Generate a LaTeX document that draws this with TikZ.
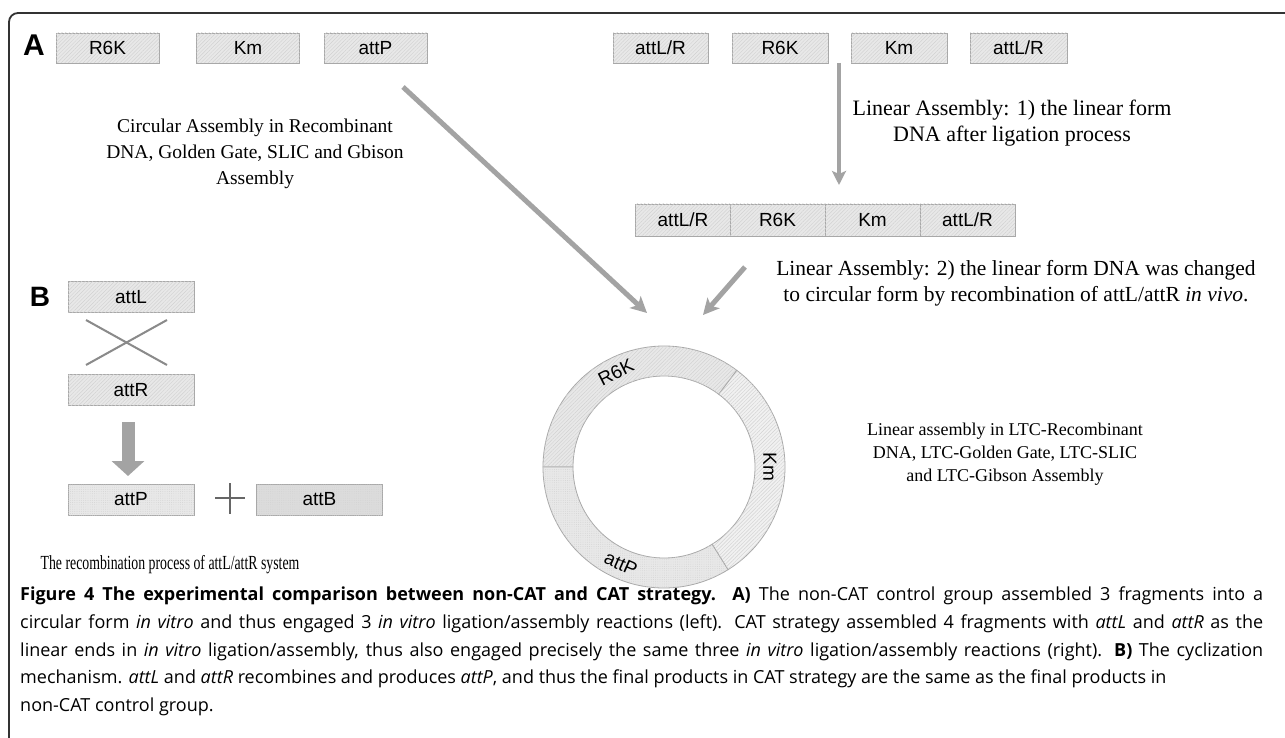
\documentclass[tikz,border=0pt]{standalone}
\usepackage{fontspec}
\setmainfont{Liberation Serif}
\newfontfamily\arial{Liberation Sans}
\newfontfamily\capfont{Open Sans}
\usetikzlibrary{arrows.meta,patterns.meta}
\definecolor{boxfill}{HTML}{E8E8E8}
\definecolor{boxfilldark}{HTML}{DCDCDC}
\definecolor{hatchc}{HTML}{D2D2D2}
\definecolor{boxline}{HTML}{A8A8A8}
\definecolor{arrowgray}{HTML}{A3A3A3}
\definecolor{framec}{HTML}{333333}
\definecolor{crossc}{HTML}{8A8A8A}
\definecolor{plusc}{HTML}{666666}
\tikzset{
  hatch/.style={postaction={pattern={Lines[angle=45,distance=2.6pt,line width=0.45pt]}, pattern color=hatchc}},
  dots/.style={postaction={pattern={Dots[distance=2.2pt,radius=0.45pt]}, pattern color=hatchc}},
  frag/.style={draw=boxline, fill=boxfill, hatch, line width=0.8pt, minimum width=103pt, minimum height=30pt, inner sep=0pt, font=\arial\fontsize{19}{21}\selectfont},
  cell/.style={draw=boxline, fill=boxfill, hatch, line width=0.8pt, minimum width=95pt, minimum height=32pt, inner sep=0pt, font=\arial\fontsize{19}{21}\selectfont},
  bfrag/.style={draw=boxline, fill=boxfill, line width=0.8pt, minimum width=126pt, minimum height=31pt, inner sep=0pt, font=\arial\fontsize{19}{21}\selectfont},
  serif/.style={align=center, inner sep=0pt},
  bigarrow/.style={draw=arrowgray, line width=5pt, -{Stealth[length=16pt,width=16pt,inset=4pt]}},
  panel/.style={font=\arial\bfseries\fontsize{30}{30}\selectfont, inner sep=0pt},
  ringfill/.style={fill=#1, draw=boxline, line width=0.8pt},
  ringlabel/.style={font=\arial\fontsize{19}{21}\selectfont, inner sep=0pt}
}
\begin{document}
\begin{tikzpicture}[x=1pt,y=-1pt]
\useasboundingbox (0,0) rectangle (1285,738);
\fill[white] (0,0) rectangle (1285,738);
% frame
\draw[framec, line width=1.8pt, rounded corners=9pt] (1290,13) -- (9,13) -- (9,745);
% panel A
\node[panel] (A) at (34,45) {A};
\node[frag] (r6k1) at (107.5,48) {R6K};
\node[frag] (km1) at (248,48) {Km};
\node[frag] (attp1) at (375.5,48) {attP};
\node[frag, minimum width=95pt] (al1) at (660.5,48) {attL/R};
\node[frag, minimum width=96pt] (r6k2) at (780,48) {R6K};
\node[frag, minimum width=96pt] (km2) at (899,48) {Km};
\node[frag, minimum width=97pt] (al2) at (1018.5,48) {attL/R};
% linear row
\node[cell] (c1) at (683,220) {attL/R};
\node[cell] (c2) at (777.5,220) {R6K};
\node[cell] (c3) at (872.5,220) {Km};
\node[cell] (c4) at (967.5,220) {attL/R};
% texts
\node[serif, font=\fontsize{19.5}{26}\selectfont] (tcirc) at (255,154) {Circular Assembly in Recombinant\\DNA, Golden Gate, SLIC and Gbison\\Assembly};
\node[serif, font=\fontsize{22}{26}\selectfont] (tlin1) at (1012,123) {Linear Assembly: 1) the linear form\\DNA after ligation process};
\node[serif, font=\fontsize{21.5}{26}\selectfont] (tlin2) at (1016,283) {Linear Assembly: 2) the linear form DNA was changed\\to circular form by recombination of attL/attR \textit{in vivo}.};
\node[serif, font=\fontsize{18}{23}\selectfont] (tltc) at (1005,454) {Linear assembly in LTC-Recombinant\\DNA, LTC-Golden Gate, LTC-SLIC\\and LTC-Gibson Assembly};
% arrows
\coordinate (a1s) at (403,87);
\coordinate (a1e) at (647,313);
\coordinate (a2s) at (745,267);
\coordinate (a2e) at (703,315);
\coordinate (a3s) at (839,63);
\coordinate (a3e) at (839,185);
\draw[bigarrow] (a1s) -- (a1e);
\draw[bigarrow] (a2s) -- (a2e);
\draw[draw=arrowgray, line width=4pt, -{Stealth[length=14pt,width=14pt,inset=3pt]}] (a3s) -- (a3e);
% ring
\begin{scope}[shift={(664,467)}, y=1pt]
  \path[ringfill=boxfill, hatch] (53:121) arc[start angle=53, end angle=180, radius=121] -- (180:91) arc[start angle=180, end angle=53, radius=91] -- cycle;
  \path[ringfill=boxfill, dots] (180:121) arc[start angle=180, end angle=302, radius=121] -- (302:91) arc[start angle=302, end angle=180, radius=91] -- cycle;
  \path[ringfill=boxfill!60!white, hatch] (-58:121) arc[start angle=-58, end angle=53, radius=121] -- (53:91) arc[start angle=53, end angle=-58, radius=91] -- cycle;
  \node[ringlabel, rotate=27] (lr6k) at (117:106) {R6K};
  \node[ringlabel, rotate=-90] (lkm) at (0:106) {Km};
  \node[ringlabel, rotate=-24] (lattp) at (246:106) {attP};
\end{scope}
% panel B
\node[panel, font=\arial\bfseries\fontsize{28}{28}\selectfont] (B) at (40,297) {B};
\node[bfrag, hatch] (attl) at (131,297) {attL};
\node[bfrag, hatch] (attr) at (131,390) {attR};
\node[bfrag, dots] (attpb) at (131,499.5) {attP};
\node[bfrag, fill=boxfilldark, dots] (attb) at (319.5,499.5) {attB};
\coordinate (x1) at (86,320);
\coordinate (x2) at (167,365);
\coordinate (x3) at (86,365);
\coordinate (x4) at (167,320);
\draw[crossc, line width=2pt] (x1) -- (x2);
\draw[crossc, line width=2pt] (x3) -- (x4);
\coordinate (bs) at (128,422);
\coordinate (be) at (128,476);
\draw[arrowgray, line width=13pt, -{Triangle[length=15pt,width=32pt]}] (bs) -- (be);
\coordinate (p1) at (230,483);
\coordinate (p2) at (230,514);
\coordinate (p3) at (215,498);
\coordinate (p4) at (245,498);
\draw[plusc, line width=2.5pt] (p1) -- (p2);
\draw[plusc, line width=2.5pt] (p3) -- (p4);
\node[serif, font=\fontsize{20}{22}\selectfont] (trec) at (170,565) {\scalebox{0.69}[1]{The recombination process of attL/attR system}};
% caption
\node[anchor=north west, text width=1243pt, inner sep=0pt, align=justify, font=\capfont\fontsize{18}{27.6}\selectfont] (cap) at (20,587) {%
\textbf{Figure 4 The experimental comparison between non-CAT and CAT strategy. A)} The non-CAT control group assembled 3 fragments into a\linebreak
circular form \textit{in vitro} and thus engaged 3 \textit{in vitro} ligation/assembly reactions (left). CAT strategy assembled 4 fragments with \textit{attL} and \textit{attR} as the\linebreak
linear ends in \textit{in vitro} ligation/assembly, thus also engaged precisely the same three \textit{in vitro} ligation/assembly reactions (right). \textbf{B)} The cyclization\linebreak
mechanism. \textit{attL} and \textit{attR} recombines and produces \textit{attP}, and thus the final products in CAT strategy are the same as the final products in\newline
non-CAT control group.};
\end{tikzpicture}
\end{document}
